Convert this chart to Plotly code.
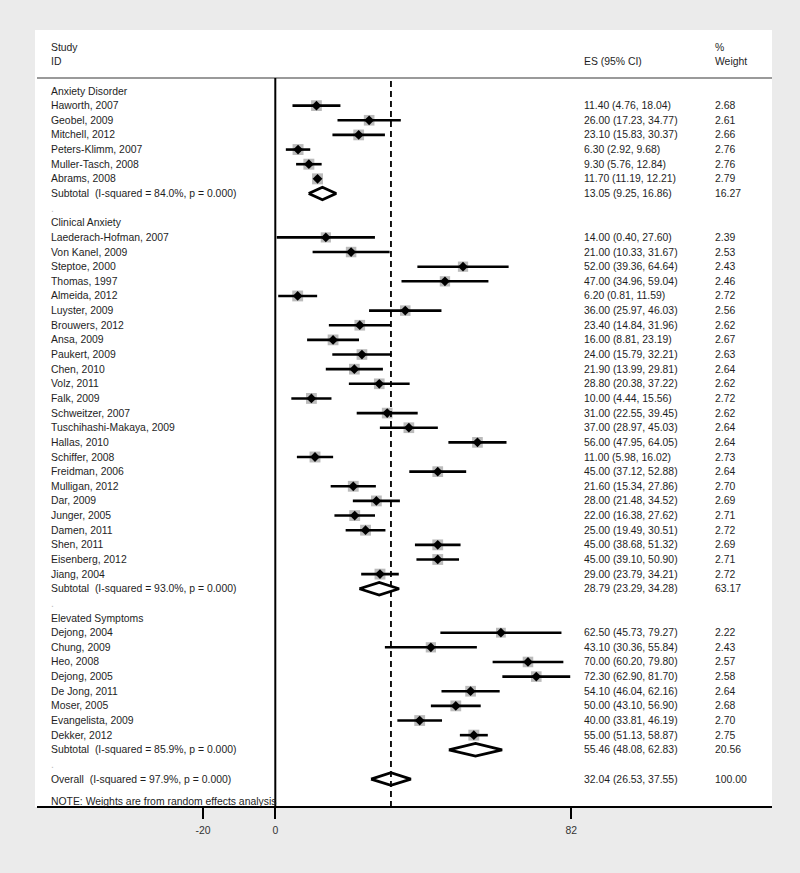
import plotly.graph_objects as go

# ---------------- data ----------------
group_names = ["Anxiety Disorder", "Clinical Anxiety", "Elevated Symptoms"]

ad_studies = ["Haworth, 2007", "Geobel, 2009", "Mitchell, 2012", "Peters-Klimm, 2007",
              "Muller-Tasch, 2008", "Abrams, 2008"]
ad_es = [11.40, 26.00, 23.10, 6.30, 9.30, 11.70]
ad_lo = [4.76, 17.23, 15.83, 2.92, 5.76, 11.19]
ad_hi = [18.04, 34.77, 30.37, 9.68, 12.84, 12.21]
ad_w = [2.68, 2.61, 2.66, 2.76, 2.76, 2.79]

ca_studies = ["Laederach-Hofman, 2007", "Von Kanel, 2009", "Steptoe, 2000", "Thomas, 1997",
              "Almeida, 2012", "Luyster, 2009", "Brouwers, 2012", "Ansa, 2009", "Paukert, 2009",
              "Chen, 2010", "Volz, 2011", "Falk, 2009", "Schweitzer, 2007",
              "Tuschihashi-Makaya, 2009", "Hallas, 2010", "Schiffer, 2008", "Freidman, 2006",
              "Mulligan, 2012", "Dar, 2009", "Junger, 2005", "Damen, 2011", "Shen, 2011",
              "Eisenberg, 2012", "Jiang, 2004"]
ca_es = [14.00, 21.00, 52.00, 47.00, 6.20, 36.00, 23.40, 16.00, 24.00, 21.90, 28.80, 10.00,
         31.00, 37.00, 56.00, 11.00, 45.00, 21.60, 28.00, 22.00, 25.00, 45.00, 45.00, 29.00]
ca_lo = [0.40, 10.33, 39.36, 34.96, 0.81, 25.97, 14.84, 8.81, 15.79, 13.99, 20.38, 4.44,
         22.55, 28.97, 47.95, 5.98, 37.12, 15.34, 21.48, 16.38, 19.49, 38.68, 39.10, 23.79]
ca_hi = [27.60, 31.67, 64.64, 59.04, 11.59, 46.03, 31.96, 23.19, 32.21, 29.81, 37.22, 15.56,
         39.45, 45.03, 64.05, 16.02, 52.88, 27.86, 34.52, 27.62, 30.51, 51.32, 50.90, 34.21]
ca_w = [2.39, 2.53, 2.43, 2.46, 2.72, 2.56, 2.62, 2.67, 2.63, 2.64, 2.62, 2.72, 2.62, 2.64,
        2.64, 2.73, 2.64, 2.70, 2.69, 2.71, 2.72, 2.69, 2.71, 2.72]

es_studies = ["Dejong, 2004", "Chung, 2009", "Heo, 2008", "Dejong, 2005", "De Jong, 2011",
              "Moser, 2005", "Evangelista, 2009", "Dekker, 2012"]
es_es = [62.50, 43.10, 70.00, 72.30, 54.10, 50.00, 40.00, 55.00]
es_lo = [45.73, 30.36, 60.20, 62.90, 46.04, 43.10, 33.81, 51.13]
es_hi = [79.27, 55.84, 79.80, 81.70, 62.16, 56.90, 46.19, 58.87]
es_w = [2.22, 2.43, 2.57, 2.58, 2.64, 2.68, 2.70, 2.75]

sub_isq = [84.0, 93.0, 85.9]
sub_es = [13.05, 28.79, 55.46]
sub_lo = [9.25, 23.29, 48.08]
sub_hi = [16.86, 34.28, 62.83]
sub_w = [16.27, 63.17, 20.56]

overall_isq = 97.9
overall_es = 32.04
overall_lo = 26.53
overall_hi = 37.55
overall_w = 100.00

x_tickvals = [-20, 0, 82]
x_ticktext = ["-20", "0", "82"]

# ---------------- layout geometry (pixels) ----------------
W, H = 800, 873
PLOT_BOTTOM = 807          # axis line position
ZERO_PX, SCALE = 275.3, 296.0 / 82.0
ROW1_PX, ROW_H = 91.0, 14.64
FONT = "Liberation Sans, Arial, sans-serif"
FS = 10.4
TXT = "#1e1e1e"

def py2paper(py):
    return (PLOT_BOTTOM - py) / PLOT_BOTTOM

def px2paper(px):
    return px / W

x_range = [-ZERO_PX / SCALE, (W - ZERO_PX) / SCALE]
y_range = [1 + (PLOT_BOTTOM - ROW1_PX) / ROW_H, 1 + (0 - ROW1_PX) / ROW_H]

groups = [
    (ad_studies, ad_es, ad_lo, ad_hi, ad_w),
    (ca_studies, ca_es, ca_lo, ca_hi, ca_w),
    (es_studies, es_es, es_lo, es_hi, es_w),
]

# build rows
rows = []  # (kind, label, es, lo, hi, w)
for gi, (names, es, lo, hi, w) in enumerate(groups):
    rows.append(("header", group_names[gi], None, None, None, None))
    for n, e, l, h, ww in zip(names, es, lo, hi, w):
        rows.append(("study", n, e, l, h, ww))
    rows.append(("sub", "Subtotal \u00a0(I-squared = %.1f%%, p = 0.000)" % sub_isq[gi],
                 sub_es[gi], sub_lo[gi], sub_hi[gi], sub_w[gi]))
    rows.append(("blank", ".", None, None, None, None))
rows.append(("sub", "Overall \u00a0(I-squared = %.1f%%, p = 0.000)" % overall_isq,
             overall_es, overall_lo, overall_hi, overall_w))

fig = go.Figure()

ci_x, ci_y, sq_x, sq_y, sq_s, pt_x, pt_y = [], [], [], [], [], [], []
annotations = []
for i, (kind, label, e, l, h, w) in enumerate(rows):
    r = i + 1
    col = "#bbbbbb" if kind == "blank" else TXT
    annotations.append(dict(x=px2paper(48.5), xref="paper", y=r, yref="y", text=label,
                            xanchor="left", yanchor="middle", showarrow=False,
                            font=dict(family=FONT, size=FS, color=col)))
    if kind in ("study", "sub"):
        annotations.append(dict(x=px2paper(582), xref="paper", y=r, yref="y",
                                text="%.2f (%.2f, %.2f)" % (e, l, h),
                                xanchor="left", yanchor="middle", showarrow=False,
                                font=dict(family=FONT, size=FS, color=TXT)))
        annotations.append(dict(x=px2paper(713), xref="paper", y=r, yref="y",
                                text="%.2f" % w,
                                xanchor="left", yanchor="middle", showarrow=False,
                                font=dict(family=FONT, size=FS, color=TXT)))
    if kind == "study":
        ci_x += [l, h, None]
        ci_y += [r, r, None]
        sq_x.append(e)
        sq_y.append(r)
        sq_s.append(11 * (w / 2.79) ** 0.5)
        pt_x.append(e)
        pt_y.append(r)
    if kind == "sub":
        dh = 0.43
        fig.add_trace(go.Scatter(x=[l, e, h, e, l], y=[r, r - dh, r, r + dh, r],
                                 mode="lines", fill="toself", fillcolor="white",
                                 line=dict(color="black", width=2.8), hoverinfo="skip",
                                 showlegend=False))

fig.add_trace(go.Scatter(x=sq_x, y=sq_y, mode="markers",
                         marker=dict(symbol="square", size=sq_s, color="#9e9e9e",
                                     line=dict(width=0)),
                         hoverinfo="skip", showlegend=False))
fig.add_trace(go.Scatter(x=ci_x, y=ci_y, mode="lines",
                         line=dict(color="black", width=2.6),
                         hoverinfo="skip", showlegend=False))
fig.add_trace(go.Scatter(x=pt_x, y=pt_y, mode="markers",
                         marker=dict(symbol="diamond", size=7.5, color="black",
                                     line=dict(width=0)),
                         hoverinfo="skip", showlegend=False))

# header texts
for txt, px, py in [("Study", 48.5, 47), ("ID", 48.5, 62), ("ES (95% CI)", 582, 62),
                    ("%", 713, 47), ("Weight", 713, 62),
                    ("NOTE: Weights are from random effects analysis", 48.5, 801)]:
    annotations.append(dict(x=px2paper(px), xref="paper", y=py2paper(py), yref="paper",
                            text=txt, xanchor="left", yanchor="middle", showarrow=False,
                            font=dict(family=FONT, size=FS, color=TXT)))

shapes = [
    dict(type="rect", xref="paper", yref="paper", x0=px2paper(35), x1=px2paper(772),
         y0=0, y1=py2paper(30), fillcolor="white", line=dict(width=0), layer="below"),
    dict(type="line", xref="paper", yref="paper", x0=px2paper(37), x1=px2paper(772),
         y0=py2paper(78), y1=py2paper(78), line=dict(color="#9a9a9a", width=2)),
    dict(type="line", xref="paper", yref="paper", x0=px2paper(37), x1=px2paper(772),
         y0=0, y1=0, line=dict(color="black", width=2)),
    dict(type="line", xref="x", yref="paper", x0=0, x1=0, y0=0, y1=py2paper(78),
         line=dict(color="black", width=2)),
    dict(type="line", xref="x", yref="paper", x0=overall_es, x1=overall_es, y0=0,
         y1=py2paper(78), line=dict(color="black", width=1.8, dash="6px,4px")),
]

fig.update_layout(
    width=W, height=H,
    margin=dict(l=0, r=0, t=0, b=H - PLOT_BOTTOM),
    paper_bgcolor="#ebebeb", plot_bgcolor="rgba(0,0,0,0)",
    showlegend=False,
    annotations=annotations, shapes=shapes,
    xaxis=dict(range=x_range, showgrid=False, zeroline=False, showline=False,
               tickvals=x_tickvals, ticktext=x_ticktext, ticks="outside", ticklen=11,
               tickwidth=2, tickcolor="black", ticklabelstandoff=3,
               tickfont=dict(family=FONT, size=FS, color="#333333"), fixedrange=True),
    yaxis=dict(range=y_range, visible=False, fixedrange=True),
)

fig.write_html(
    "out.html",
    config={"displayModeBar": False},
    post_script="document.body.style.margin='0';document.body.style.background='#ebebeb';",
)
